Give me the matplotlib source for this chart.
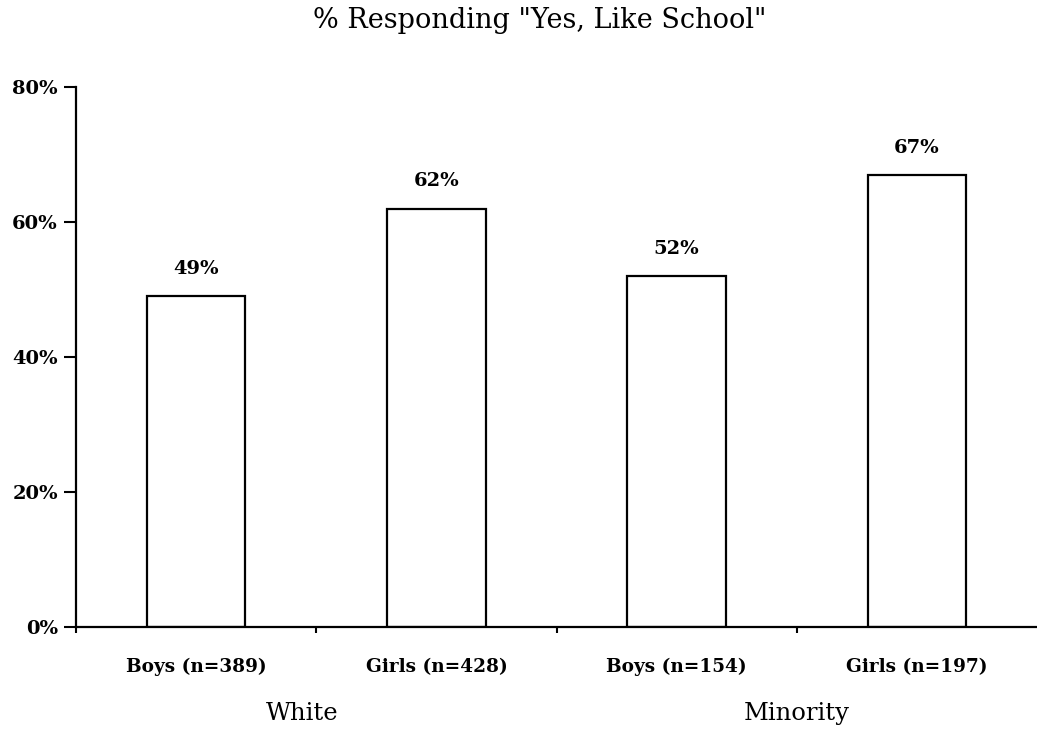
import matplotlib
matplotlib.use("Agg")
import matplotlib.pyplot as plt
from matplotlib.ticker import FuncFormatter

categories = ["Boys (n=389)", "Girls (n=428)", "Boys (n=154)", "Girls (n=197)"]
values = [49, 62, 52, 67]
value_labels = ["49%", "62%", "52%", "67%"]
groups = ["White", "Minority"]
group_pos = [0.44, 2.5]
y_ticks = [0, 20, 40, 60, 80]

plt.rcParams['font.family'] = ['DejaVu Serif']

fig = plt.figure(figsize=(10.37, 7.29), dpi=100)
W, H = 1037, 729
ax = fig.add_axes([76 / W, (H - 627) / H, (W - 76) / W, (627 - 87) / H])
px = 80 / (627 - 87)  # data units per pixel in y

x = range(len(categories))
ax.bar(x, values, width=0.41, color='white', edgecolor='black', linewidth=1.6)

for i, (v, lab) in enumerate(zip(values, value_labels)):
    ax.text(i, v + 22 * px, lab, ha='center', va='baseline', fontsize=14, fontweight='bold')

ax.set_xlim(-0.5, 3.5)
ax.set_ylim(0, 80)
ax.set_yticks(y_ticks)
ax.yaxis.set_major_formatter(FuncFormatter(lambda v, p: f"{v:.0f}%"))
ax.set_xticks([-0.5, 0.5, 1.5, 2.5])
ax.set_xticklabels([])
ax.tick_params(axis='x', direction='out', length=4, width=1.5)
ax.tick_params(axis='y', direction='out', length=9, width=1.5, labelsize=14, pad=4)
for t in ax.get_yticklabels():
    t.set_fontweight('bold')

for s in ['top', 'right']:
    ax.spines[s].set_visible(False)
for s in ['left', 'bottom']:
    ax.spines[s].set_linewidth(1.6)

for i, c in enumerate(categories):
    ax.text(i, -(672 - 627) * px, c, ha='center', va='baseline', fontsize=13.3, fontweight='semibold')
for g, gx in zip(groups, group_pos):
    ax.text(gx, -(720 - 627) * px, g, ha='center', va='baseline', fontsize=17.5)

fig.text(540 / W, 1 - 28 / H, '% Responding "Yes, Like School"', ha='center', va='baseline', fontsize=19.5)

fig.savefig('out.png', dpi=100)
